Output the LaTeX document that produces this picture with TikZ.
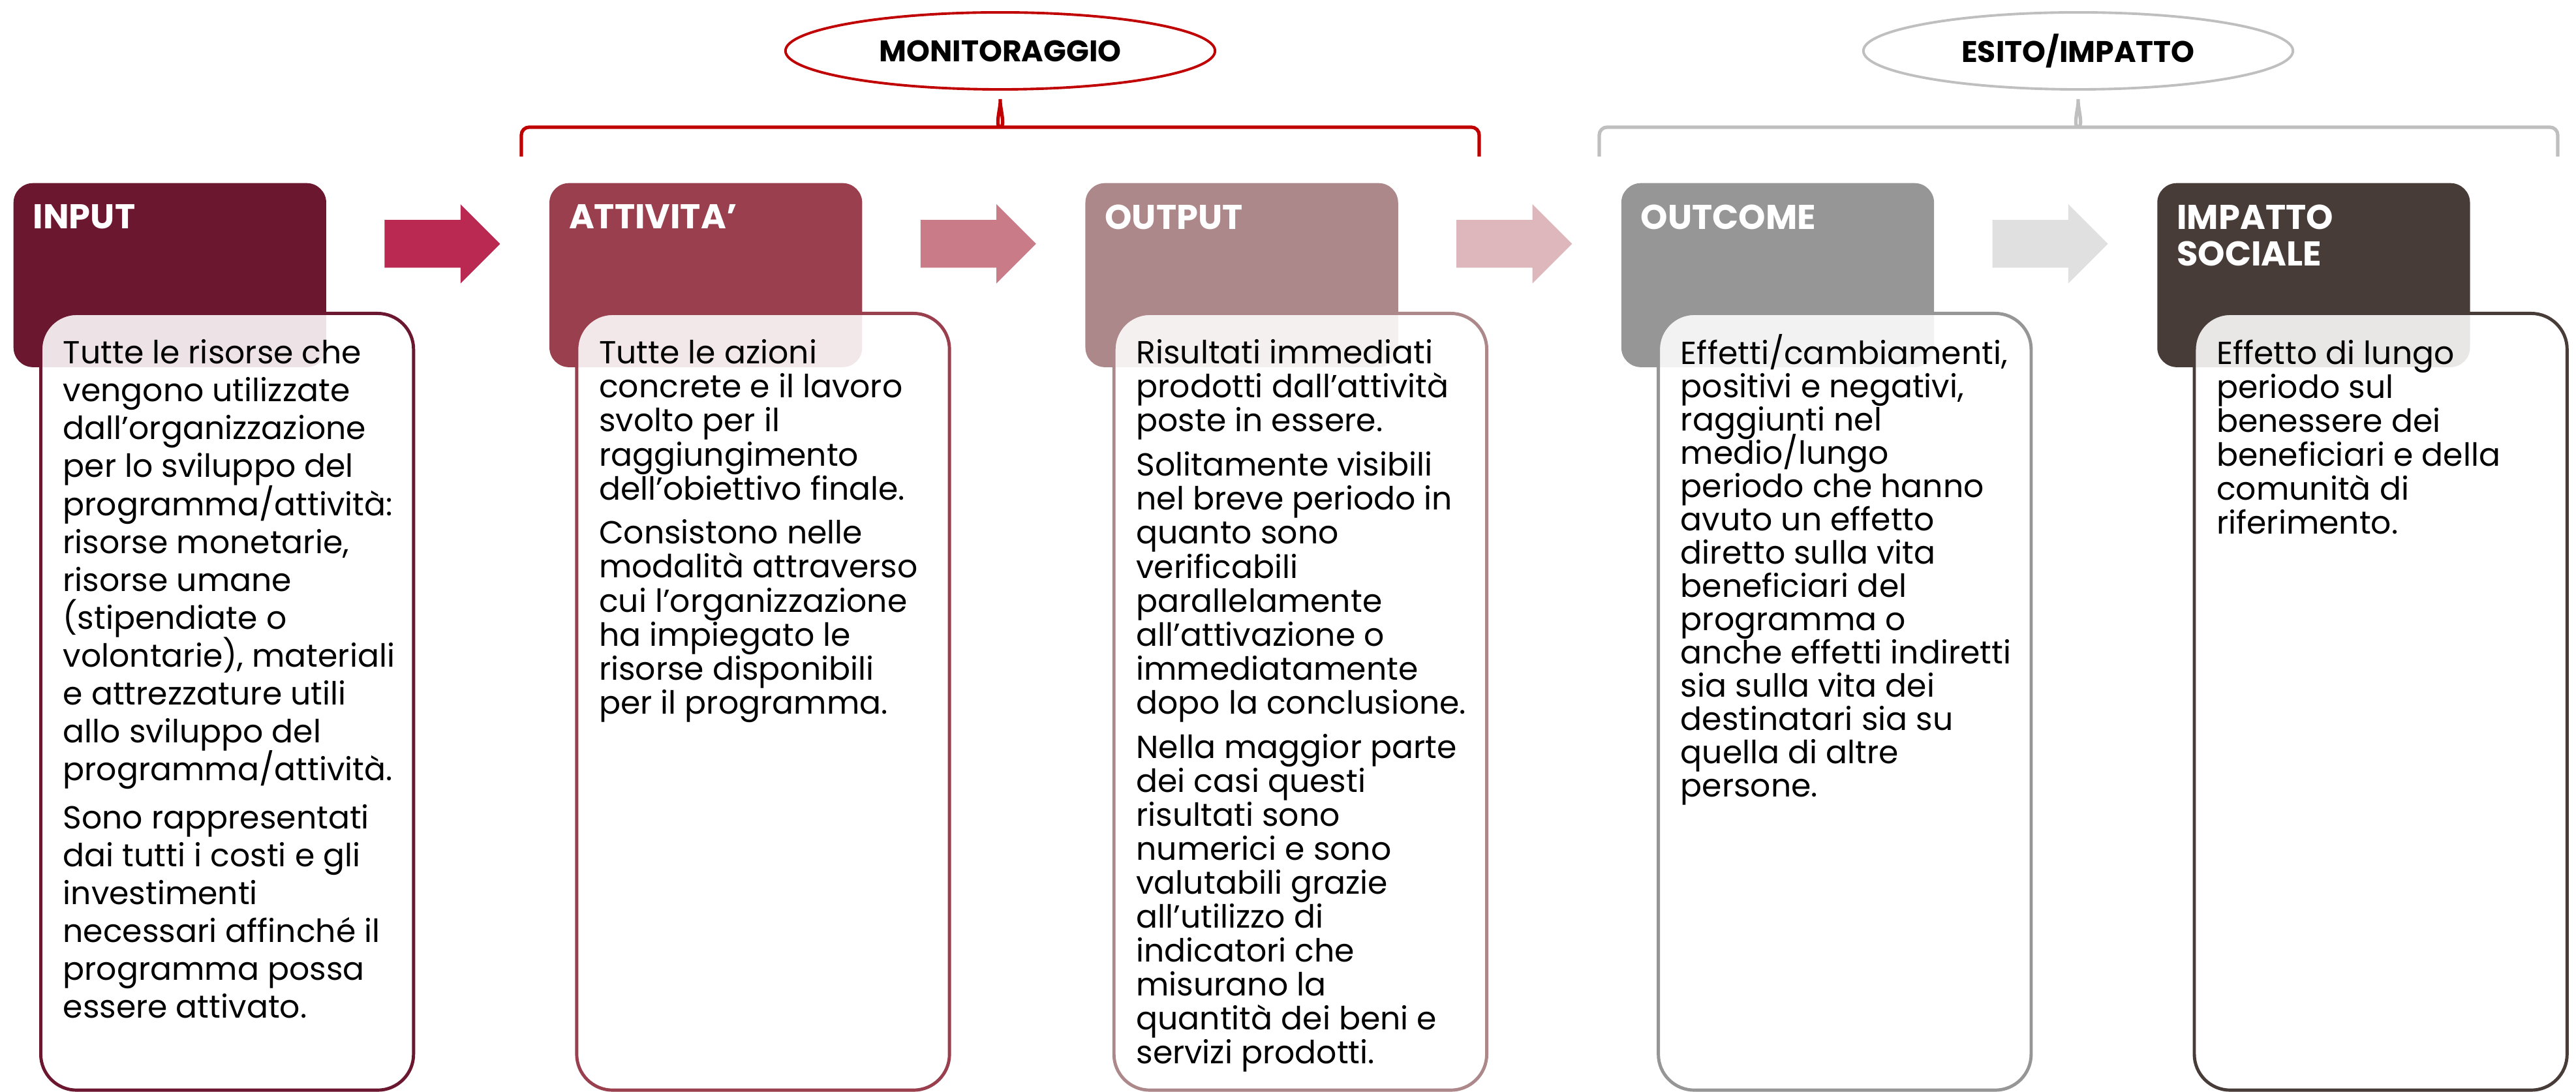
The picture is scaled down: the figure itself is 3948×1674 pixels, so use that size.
\documentclass[tikz,border=0pt]{standalone}
\usepackage{fontspec}
\setmainfont{Poppins}
\usepackage{xcolor}
\usepackage{tikz}
\usetikzlibrary{shapes.geometric, shapes.arrows, arrows.meta, positioning, calc}
\definecolor{inputcolor}{RGB}{108, 23, 48}
\definecolor{inputarrow}{RGB}{185, 41, 82}
\definecolor{attivitacolor}{RGB}{153, 63, 78}
\definecolor{attivitaarrow}{RGB}{201, 124, 136}
\definecolor{outputcolor}{RGB}{173, 136, 139}
\definecolor{outputarrow}{RGB}{222, 183, 189}
\definecolor{outcomecolor}{RGB}{150, 150, 150}
\definecolor{outcomearrow}{RGB}{224, 224, 224}
\definecolor{impattocolor}{RGB}{71, 60, 56}
\definecolor{monitorcolor}{RGB}{192, 0, 0}
\definecolor{esitocolor}{RGB}{191, 191, 191}
\setlength{\lineskiplimit}{-20pt}

\begin{document}
\begin{tikzpicture}[
    x=0.01cm, y=-0.01cm,
    node distance=3.405cm,
    head/.style={rectangle, rounded corners=0.3cm, minimum width=4.79cm, minimum height=2.82cm, anchor=north west, inner sep=0},
    headtext/.style={anchor=north west, inner sep=0, align=left, text=white, font=\fontsize{15}{16}\selectfont\bfseries},
    bodybox/.style={rectangle, rounded corners=0.55cm, draw, line width=1.4pt, fill=white, fill opacity=0.88, minimum width=5.71cm, minimum height=11.9cm, anchor=north west, inner sep=0},
    bodytext/.style={anchor=north west, inner sep=0, align=left, font=\fontsize{13.9}{14.8}\selectfont},
    flow/.style={single arrow, single arrow head extend=0.24cm, minimum height=1.77cm, inner xsep=0, inner ysep=0.36cm, anchor=tail},
    group/.style={ellipse, line width=1.1pt, minimum width=6.58cm, minimum height=1.18cm, font=\fontsize{13}{14}\selectfont\bfseries},
    brace/.style={line width=1.5pt, rounded corners=0.12cm}
]
    \useasboundingbox (0,0) rectangle (3948,1674);

    % coloured headers
    \node[head, fill=inputcolor] (inp) at (20,280) {};
    \node[head, fill=attivitacolor, right=of inp] (att) {};
    \node[head, fill=outputcolor, right=of att] (out) {};
    \node[head, fill=outcomecolor, right=of out] (outc) {};
    \node[head, fill=impattocolor, right=of outc] (imp) {};

    % flow arrows
    \node[flow, fill=inputarrow] (a1) at ($(inp.east)+(88,-48)$) {};
    \node[flow, fill=attivitaarrow] (a2) at ($(att.east)+(88,-48)$) {};
    \node[flow, fill=outputarrow] (a3) at ($(out.east)+(88,-48)$) {};
    \node[flow, fill=outcomearrow] (a4) at ($(outc.east)+(88,-48)$) {};

    % white description boxes
    \node[bodybox, draw=inputcolor] (inpbody) at ($(inp.north west)+(40,198)$) {};
    \node[bodybox, draw=attivitacolor] (attbody) at ($(att.north west)+(40,198)$) {};
    \node[bodybox, draw=outputcolor] (outbody) at ($(out.north west)+(42,198)$) {};
    \node[bodybox, draw=outcomecolor] (outcbody) at ($(outc.north west)+(55,198)$) {};
    \node[bodybox, draw=impattocolor] (impbody) at ($(imp.north west)+(55,198)$) {};

    % header labels
    \node[headtext] (inplab) at ($(inp.north west)+(30,33)$) {INPUT};
    \node[headtext] (attlab) at ($(att.north west)+(30,33)$) {ATTIVITA’};
    \node[headtext] (outlab) at ($(out.north west)+(30,33)$) {OUTPUT};
    \node[headtext] (outclab) at ($(outc.north west)+(30,33)$) {OUTCOME};
    \node[headtext] (implab) at ($(imp.north west)+(30,33)$) {IMPATTO\\SOCIALE};

    % descriptions
    \node[bodytext, font=\fontsize{13.9}{16.5}\selectfont] (inptxt) at ($(inpbody.north west)+(36,42)$) {Tutte le risorse che\\vengono utilizzate\\dall’organizzazione\\per lo sviluppo del\\programma/attività:\\risorse monetarie,\\risorse umane\\(stipendiate o\\volontarie), materiali\\e attrezzature utili\\allo sviluppo del\\programma/attività.\\[4.5pt]Sono rappresentati\\dai tutti i costi e gli\\investimenti\\necessari affinché il\\programma possa\\essere attivato.};
    \node[bodytext] (atttxt) at ($(attbody.north west)+(36,42)$) {Tutte le azioni\\concrete e il lavoro\\svolto per il\\raggiungimento\\dell’obiettivo finale.\\[4.5pt]Consistono nelle\\modalità attraverso\\cui l’organizzazione\\ha impiegato le\\risorse disponibili\\per il programma.};
    \node[bodytext] (outtxt) at ($(outbody.north west)+(36,42)$) {Risultati immediati\\prodotti dall’attività\\poste in essere.\\[4.5pt]Solitamente visibili\\nel breve periodo in\\quanto sono\\verificabili\\parallelamente\\all’attivazione o\\immediatamente\\dopo la conclusione.\\[4.5pt]Nella maggior parte\\dei casi questi\\risultati sono\\numerici e sono\\valutabili grazie\\all’utilizzo di\\indicatori che\\misurano la\\quantità dei beni e\\servizi prodotti.};
    \node[bodytext, font=\fontsize{13.9}{14.5}\selectfont] (outctxt) at ($(outcbody.north west)+(36,34)$) {Effetti/cambiamenti,\\positivi e negativi,\\raggiunti nel\\medio/lungo\\periodo che hanno\\avuto un effetto\\diretto sulla vita\\beneficiari del\\programma o\\anche effetti indiretti\\sia sulla vita dei\\destinatari sia su\\quella di altre\\persone.};
    \node[bodytext] (imptxt) at ($(impbody.north west)+(36,42)$) {Effetto di lungo\\periodo sul\\benessere dei\\beneficiari e della\\comunità di\\riferimento.};

    % groups on top
    \node[group, draw=monitorcolor] (mon) at (1533,78) {MONITORAGGIO};
    \node[group, draw=esitocolor] (esito) at (3185,78) {ESITO/IMPATTO};

    \draw[brace, monitorcolor] (799,240) |- ($(mon.south)+(-12,56)$) to[out=0, in=-90] ($(mon.south)+(0,6)$) to[out=-90, in=180] ($(mon.south)+(12,56)$) -| (2267,240);
    \draw[brace, esitocolor] (2451,240) |- ($(esito.south)+(-12,56)$) to[out=0, in=-90] ($(esito.south)+(0,6)$) to[out=-90, in=180] ($(esito.south)+(12,56)$) -| (3920,240);
\end{tikzpicture}
\end{document}
